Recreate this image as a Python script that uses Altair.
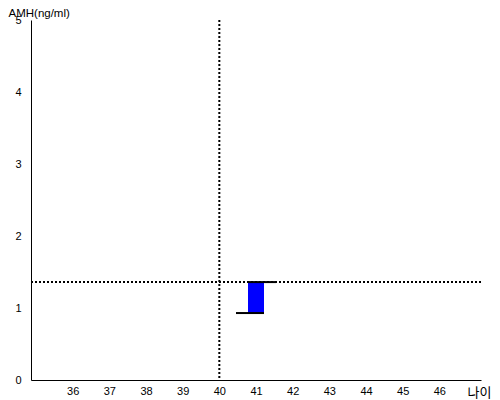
import altair as alt
import pandas as pd

ages = [41]
amh_low = [0.93]
amh_high = [1.36]
ref_age = [40]
ref_amh = [1.36]
x_ticks = [36, 37, 38, 39, 40, 41, 42, 43, 44, 45, 46]
y_ticks = [0, 1, 2, 3, 4, 5]

df = pd.DataFrame({"age": ages, "low": amh_low, "high": amh_high})
ref_x = pd.DataFrame({"age": ref_age})
ref_y = pd.DataFrame({"amh": ref_amh})

FONT = "Liberation Sans"

xscale = alt.Scale(domain=[35, 47], nice=False, zero=False)
yscale = alt.Scale(domain=[0, 5], nice=False)

xaxis = alt.Axis(values=x_ticks, format="d", ticks=False, grid=False, labelPadding=5,
                 domainColor="black", labelColor="black", labelFontSize=11,
                 labelFont=FONT, title="나이", titleFont="Noto Sans CJK KR",
                 titleFontSize=13, titleFontWeight="normal", titleAngle=0,
                 titleX=436, titleY=16, titleAlign="left",
                 titleBaseline="alphabetic", titleColor="black")
yaxis = alt.Axis(values=y_ticks, format="d", ticks=False, grid=False, labelPadding=10,
                 domainColor="black", labelColor="black", labelFontSize=11,
                 labelFont=FONT, title="AMH(ng/ml)", titleFont=FONT,
                 titleFontSize=11.5, titleFontWeight="normal", titleAngle=0,
                 titleX=-23, titleY=-3.7, titleAlign="left",
                 titleBaseline="alphabetic", titleColor="black")

bar = alt.Chart(df).mark_bar(color="#0000FF", size=16).encode(
    x=alt.X("age:Q", scale=xscale, axis=xaxis),
    y=alt.Y("low:Q", scale=yscale, axis=yaxis),
    y2="high:Q",
)

top_line = alt.Chart(df).mark_rule(color="black", strokeWidth=2,
                                   xOffset=-8, x2Offset=20).encode(
    x=alt.X("age:Q", scale=xscale), x2="age:Q",
    y=alt.Y("high:Q", scale=yscale),
)
bottom_line = alt.Chart(df).mark_rule(color="black", strokeWidth=2,
                                      xOffset=-20, x2Offset=8).encode(
    x=alt.X("age:Q", scale=xscale), x2="age:Q",
    y=alt.Y("low:Q", scale=yscale),
)

vline = alt.Chart(ref_x).mark_rule(color="black", strokeWidth=2,
                                   strokeDash=[2, 2]).encode(
    x=alt.X("age:Q", scale=xscale),
)
hline = alt.Chart(ref_y).mark_rule(color="black", strokeWidth=2,
                                   strokeDash=[2, 2]).encode(
    y=alt.Y("amh:Q", scale=yscale),
)

chart = alt.layer(vline, hline, bar, top_line, bottom_line).properties(
    width=450, height=360,
    autosize=alt.AutoSizeParams(type="none"),
    padding={"left": 23, "top": 12, "right": 11, "bottom": 20},
    background="white",
).configure_view(stroke=None)

chart.save("out.html", embed_options={"renderer": "svg", "actions": False})
